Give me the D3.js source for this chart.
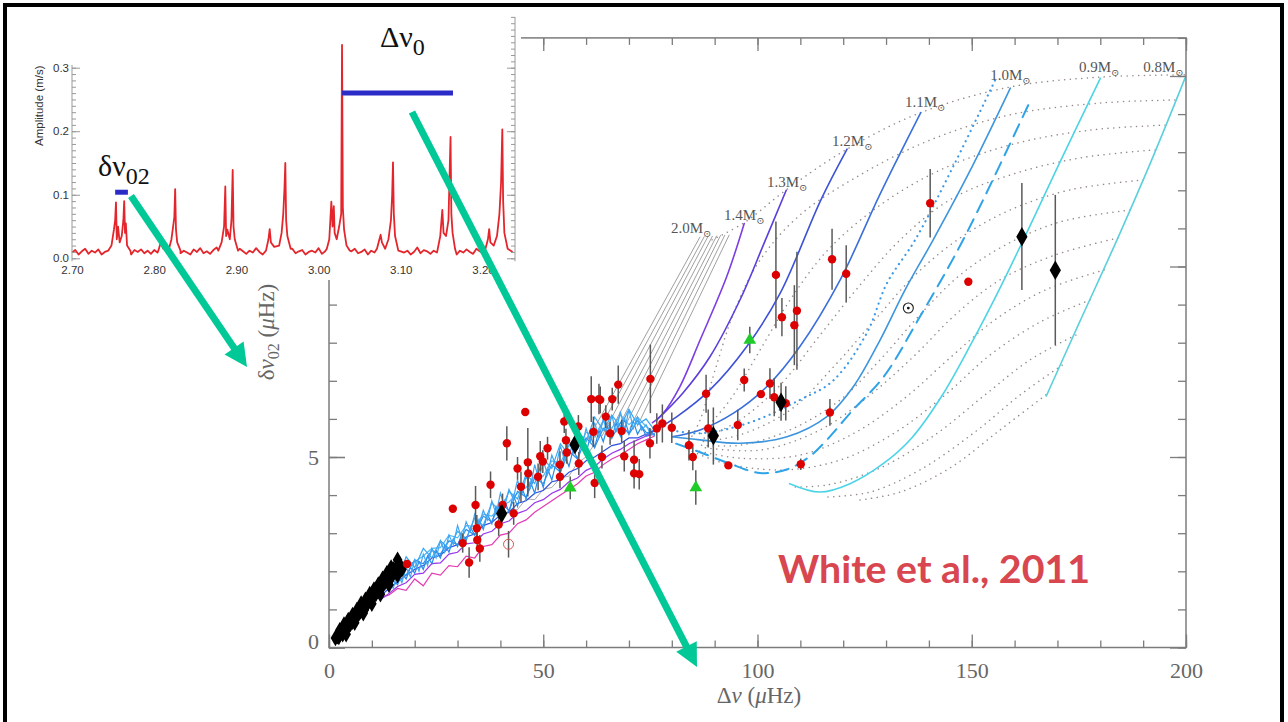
<!DOCTYPE html>
<html>
<head>
<meta charset="utf-8">
<script src="https://cdn.jsdelivr.net/npm/d3@7/dist/d3.min.js"></script>
<style>
html,body{margin:0;padding:0;background:#fff;}
svg{display:block;}
</style>
</head>
<body>
<svg id="chart" width="1288" height="722"></svg>
<script>
// ================= data =================
// main diagram: large separation Δν (μHz) vs small separation δν02 (μHz)
const xTickLabels = [0, 50, 100, 150, 200];
const yMajorTicks = [0, 5, 10, 15];
const yTickLabels = [0, 5];

// evolutionary tracks [Δν, δν02]
const track14 = [[75.5,5.9],[78,6.15],[81.9,6.85],[86.6,8.07],[92.8,9.73],[96.9,11.13]];
const track13 = [[76.5,5.97],[82.6,6.68],[88.9,7.63],[95.9,9.12],[101.5,10.6],[106.7,12.0]];
const track12 = [[74.9,5.63],[81.2,6.06],[88.9,6.76],[97.5,7.9],[105.3,9.3],[114.8,11.75],[120.9,13.08]];
const track11 = [[80,5.53],[86.6,5.71],[94.4,6.15],[102.2,6.85],[109.9,7.9],[119.3,9.65],[128.6,11.9],[138.1,14.04]];
const track10dot = [[80,5.7],[86,5.62],[92,5.71],[99.8,5.97],[109.9,6.5],[117.6,7.0],[125.5,8.25],[130.2,9.56],[136.8,10.7],[146,12.7],[155.5,14.9]];
const track10 = [[80,5.53],[86.6,5.45],[96,5.36],[106.9,5.53],[116.2,6.06],[122.4,6.85],[128.6,8.07],[134.5,9.4],[141,10.7],[150,12.6],[159,14.68]];
const track10dash = [[81,5.35],[86,5.15],[93,4.85],[100.6,4.58],[107,4.68],[112,5.0],[116.2,5.45],[122,6.2],[129.4,7.1],[138,8.7],[148,10.7],[163.2,14.24]];
const track09 = [[107.5,4.3],[114.6,4.08],[121.6,4.3],[129.4,4.83],[136,5.5],[143,6.6],[150,8.0],[156,9.3],[162.9,10.9],[170,12.6],[180,14.94]];
const track08 = [[167.4,6.6],[175,8.5],[183.9,10.7],[192,12.8],[199.8,14.95]];

// 1.5–2.0 Msun tracks (grey bundle)
const greyTracks = [
  [[60.4,5.45],[86.6,10.78]],
  [[62.0,5.50],[87.6,10.79]],
  [[63.7,5.55],[88.5,10.80]],
  [[65.3,5.60],[89.5,10.80]],
  [[66.9,5.65],[90.5,10.81]],
  [[68.6,5.70],[91.4,10.82]],
  [[70.2,5.75],[92.4,10.83]],
  [[71.9,5.80],[93.4,10.83]]
];

// lines of equal age between the tracks
const isochrones = [
  [[89.4,10.70],[96.9,11.15],[106.7,12.01],[120.9,13.08],[137.9,14.03],[158.9,14.71],[179.9,14.97],[199.8,15.03]],
  [[197.4,14.37],[179.9,14.29],[158.9,13.98],[140.3,13.32],[123.9,12.4],[109.9,11.35],[100.6,10.17],[94.7,8.86],[90.1,7.28],[86.6,5.97],[84.2,5.45]],
  [[195.1,13.71],[177.6,13.58],[158.9,13.19],[142.6,12.53],[128.6,11.61],[116.4,10.43],[107.6,9.12],[100.6,7.81],[93.6,6.5],[86.6,5.58]],
  [[192.8,13.06],[175.3,12.85],[158.9,12.4],[144.9,11.75],[133.3,10.7],[123.9,9.51],[114.6,8.2],[105.3,6.89],[95.9,5.97],[86.6,5.45]],
  [[190.0,12.27],[172.9,12.01],[158.9,11.48],[147.3,10.75],[136.8,9.78],[127.4,8.6],[118.1,7.41],[107.6,6.23],[95.9,5.58],[86.6,5.4]],
  [[186.9,11.48],[170.6,11.17],[157.8,10.56],[147.3,9.78],[137.9,8.73],[128.6,7.55],[119.3,6.5],[107.6,5.71],[95.9,5.31],[86.6,5.31]],
  [[184.1,10.75],[169.4,10.3],[156.6,9.65],[146.1,8.73],[136.8,7.68],[126.3,6.63],[114.6,5.71],[100.6,5.18],[86.6,5.26]],
  [[180.9,9.91],[167.1,9.38],[155.4,8.6],[144.9,7.6],[134.4,6.55],[122.8,5.64],[109.9,5.05],[95.9,4.97],[85.4,5.18]],
  [[177.6,9.12],[165.9,8.54],[154.3,7.68],[143.8,6.63],[132.1,5.64],[119.3,4.92],[105.3,4.66],[91.2,4.87],[84.2,5.18]],
  [[174.3,8.2],[163.6,7.55],[153.1,6.63],[141.4,5.58],[128.6,4.71],[116.4,4.27],[107.6,4.21]],
  [[171.1,7.41],[161.3,6.63],[150.8,5.66],[137.9,4.66],[126.3,4.08],[116.4,3.95]],
  [[167.3,6.63],[156.6,5.71],[144.9,4.71],[133.3,4.08],[123.9,3.87]]
];

// red-giant branch of the model grid (noisy, mixed modes)
const rgbX = [12,14,16,18,20,22,24,26,28,30,32,34,36,38,40,42,44,46,48,50,52,54,56,58,60,62,64,66,68,70,72,74,76];
const rgbLightBlue1 = [1.45,1.9,1.75,2.38,2.1,2.6,2.35,2.8,2.6,3.05,2.85,3.4,3.2,3.8,3.55,4.1,3.9,4.55,4.3,4.95,4.7,5.35,5.05,5.7,5.4,6.05,5.7,6.1,5.8,6.25,5.85,6.0,5.7];
const rgbLightBlue2 = [1.5,1.6,1.95,1.9,2.3,2.2,2.55,2.45,2.8,2.7,3.1,2.95,3.45,3.3,3.8,3.6,4.1,3.95,4.45,4.3,4.8,4.6,5.15,4.95,5.5,5.25,5.75,5.5,5.9,5.6,5.95,5.65,5.6];
const rgbLightBlue3 = [1.4,1.72,1.85,2.15,2.25,2.4,2.6,2.62,2.95,2.88,3.2,3.18,3.5,3.45,3.7,3.82,4.05,4.2,4.5,4.5,4.9,4.85,5.3,5.2,5.65,5.55,5.95,5.75,6.1,5.85,6.05,5.8,5.65];
const rgbBlue = [1.35,1.55,1.72,1.9,2.05,2.15,2.35,2.42,2.62,2.7,2.9,2.98,3.2,3.28,3.48,3.55,3.78,3.85,4.05,4.12,4.35,4.4,4.6,4.7,4.9,5.0,5.15,5.3,5.35,5.5,5.5,5.6,5.6];
const rgbPurple = [1.25,1.42,1.6,1.7,1.92,1.95,2.2,2.22,2.45,2.5,2.72,2.75,2.98,3.05,3.25,3.32,3.52,3.6,3.8,3.88,4.05,4.15,4.35,4.45,4.65,4.75,4.95,5.1,5.2,5.35,5.45,5.55,5.6];
const rgbMagenta = [1.3,1.38,1.55,1.5,1.8,1.62,1.95,1.9,2.15,2.12,2.4,2.35,2.65,2.7,2.95,3.0,3.25,3.35,3.55,3.7,3.85,4.0,4.15,4.3,4.5,4.6,4.8,4.95,5.05,5.2,5.35,5.45,5.55];
// finer-sampled light-blue tracks
const rgbXFine = [14,15,16,17,18,19,20,21,22,23,24,25,26,27,28,29,30,31,32,33,34,35,36,37,38,39,40,41,42,43,44,45,46,47,48,49,50,51,52,53,54,55,56,57,58,59,60,61,62,63,64,65,66,67,68,69,70,71,72,73,74,75,76];
const rgbLightBlue4 = [1.82,1.55,1.95,1.7,2.1,1.85,2.3,2.0,2.45,2.15,2.6,2.35,2.8,2.5,2.95,2.7,3.2,2.85,3.3,3.05,3.5,3.2,3.6,3.35,3.85,3.5,4.05,3.7,4.15,3.9,4.4,4.0,4.5,4.2,4.8,4.4,4.9,4.55,5.05,4.75,5.3,4.9,5.45,5.1,5.6,5.25,5.75,5.4,5.9,5.5,6.0,5.6,6.1,5.65,6.2,5.7,6.25,5.75,6.05,5.7,5.85,5.6,5.6];
const rgbLightBlue5 = [1.6,1.75,1.65,1.95,1.8,2.1,1.95,2.25,2.05,2.4,2.2,2.55,2.35,2.7,2.5,2.85,2.65,3.0,2.8,3.15,2.95,3.35,3.1,3.5,3.25,3.7,3.4,3.85,3.55,4.0,3.7,4.2,3.9,4.35,4.05,4.55,4.2,4.7,4.4,4.85,4.6,5.05,4.75,5.2,4.95,5.4,5.1,5.55,5.25,5.7,5.4,5.8,5.5,5.9,5.55,6.0,5.6,5.95,5.6,5.8,5.55,5.7,5.55];
const rgbGrey = [[40,3.4],[42,3.6],[44,3.62],[46,3.9],[48,3.88],[50,4.15],[52,4.2],[54,4.45],[56,4.5],[58,4.85],[60,5.0],[62,5.35]];

// observed stars [Δν, δν02, ±σ]
const keplerStars = [
  [18.2,2.19,0],[28.9,3.64,0],[31.2,2.74,0.25],[32.7,2.23,0.4],[34.2,3.74,0.5],[34.5,3.13,0.35],[34.6,2.82,0.3],[35.2,2.6,0.35],
  [37.7,4.27,0.35],[39.6,3.23,0.3],[40.5,3.74,0.3],[41.5,5.36,0.45],[43.1,3.52,0.3],[44.0,4.7,0.3],[44.8,4.22,0.4],[45.8,6.18,0],
  [46.4,4.86,0.9],[46.5,4.57,0.35],[48.8,4.48,0.35],[49.3,5.02,0.4],[49.9,4.88,0.3],[51.0,5.23,0.3],[53.9,4.8,0.35],[53.9,4.48,0.3],
  [55.5,5.12,0.3],[55.3,5.44,0.3],[54.9,5.93,0.3],[58.3,4.83,0.3],[58.2,5.8,0.3],[61.2,6.52,0.6],[63.0,6.52,0.4],[61.7,5.66,0.4],
  [62.0,4.32,0.4],[63.3,6.5,0.35],[63.7,5.0,0.3],[64.6,6.06,0.3],[66.1,6.52,0.3],[67.5,6.9,0.5],[65.6,5.62,0.3],[68.3,5.68,0.3],
  [68.9,5.02,0.4],[71.2,4.93,0.5],[71.2,4.57,0.4],[72.4,4.55,0.4],[75.0,7.05,0.9],[76.5,5.75,0.4],[77.8,5.88,0.5],[80.0,5.77,0.4],
  [74.9,5.36,0.4],[84.0,5.31,0.4],[84.9,5.0,0.35],[88.0,6.66,0.5],[88.5,5.75,0.5],[93.2,4.78,0],[95.4,5.84,0.4],[96.9,7.02,0.3],
  [100.8,6.65,0],[102.9,6.93,0.4],[103.9,6.57,0.5],[104.3,9.78,1.4],[105.7,8.67,0.5],[106.6,6.41,0.45],[108.6,8.46,1.05],
  [109.2,8.84,1.55],[110.1,4.81,0.15],[116.9,6.17,0.35],[117.4,10.19,0.8],[120.7,9.81,0.75],[140.3,11.66,0.9],[149.2,9.6,0]
];
// [Δν, δν02, lower, upper]
const diamondStars = [[40.3,3.52,3.52,3.52],[57.4,5.33,5.33,5.33],[89.7,5.56,4.8,6.3],[105.5,6.44,5.95,6.95],[161.7,10.78,9.38,12.19],[169.5,9.9,7.94,11.88]];
const giantStars = [
  [1.5,0.25],[2.0,0.3],[2.3,0.28],[2.6,0.36],[3.0,0.4],[3.2,0.35],[3.5,0.45],[3.8,0.5],[4.0,0.46],[4.3,0.55],[4.6,0.6],
  [5.0,0.62],[5.2,0.7],[5.5,0.68],[5.8,0.75],[6.0,0.8],[6.3,0.78],[6.6,0.86],[7.0,0.9],[7.3,0.95],[7.6,1.0],[8.0,1.05],
  [8.2,0.98],[8.6,1.1],[9.0,1.15],[9.3,1.22],[9.8,1.25],[10.2,1.3],[10.6,1.38],[11.0,1.42],[11.5,1.5],[12.0,1.58],[12.5,1.62],
  [13.0,1.7],[13.5,1.78],[14.2,1.9],[14.6,1.85],[15.0,2.05],[15.8,2.1],[16.4,2.2],[17.0,2.05],
  [2.5,0.45],[3.5,0.6],[4.5,0.72],[5.5,0.85],[6.5,0.98],[7.5,1.15],[8.5,1.25],[9.5,1.4],[10.5,1.52],[11.5,1.65],[12.5,1.8],
  [13.5,1.95],[14.5,2.1],[16.0,2.3],[4.0,0.35],[6.0,0.65],[8.0,0.9],[10.0,1.15],[12.0,1.4],[14.0,1.65],[16.0,1.9]
];
const triangleStars = [[56.3,4.19,0.3],[85.6,4.2,0.45],[98.2,8.07,0.35]];
const openStars = [[41.9,2.71,0.35]];
const sunPoint = [135.2,8.91];

const massNames = ["2.0","1.4","1.3","1.2","1.1","1.0","0.9","0.8"];
const massLabelAt = [[79.8,10.88],[92.2,11.22],[102.2,12.09],[117.4,13.16],[134.4,14.19],[154.3,14.9],[175.0,15.11],[190.0,15.11]];

// inset: oscillation spectrum (frequency mHz, amplitude m/s)
const insetXTicks = [2.70, 2.80, 2.90, 3.00, 3.10, 3.20];
const insetYTicks = [0.0, 0.1, 0.2, 0.3];
const noiseStart = 2.700, noiseStep = 0.004;
const noiseAmp = [
  .009,.013,.006,.011,.015,.007,.012,.009,.014,.006,.010,.016,.008,.012,.007,
  .011,.017,.009,.006,.013,.010,.014,.008,.012,.007,.013,.009,.012,.019,.010,
  .007,.012,.015,.008,.012,.009,.006,.014,.010,.016,.008,.011,.007,.013,.017,
  .009,.011,.006,.014,.010,.008,.015,.011,.007,.012,.009,.016,.010,.006,.013,
  .008,.011,.018,.009,.012,.007,.010,.015,.008,.011,.013,.006,.010,.012,.009,
  .016,.007,.011,.008,.013,.010,.017,.009,.012,.007,.011,.015,.008,.010,.014,
  .006,.012,.009,.016,.011,.007,.013,.010,.008,.015,.011,.009,.012,.006,.010,
  .017,.008,.013,.011,.007,.012,.009,.015,.010,.008,.016,.011,.006,.012,.009,
  .014,.010,.007,.015,.011,.008,.012,.017,.009,.011,.007,.013,.010,.012,.009
];
const modePeaks = [
  [[2.744,0.012],[2.748,0.02],[2.751,0.045],[2.7525,0.06],[2.7535,0.088],[2.7545,0.03],[2.756,0.05],[2.758,0.025],[2.7605,0.035],[2.7625,0.06],[2.7635,0.09],[2.7645,0.04],[2.7655,0.055],[2.767,0.02],[2.771,0.012]],
  [[2.805,0.012],[2.808,0.025],[2.811,0.015],[2.818,0.015],[2.821,0.03],[2.823,0.05],[2.8245,0.065],[2.8255,0.109],[2.8265,0.045],[2.828,0.025],[2.832,0.012]],
  [[2.878,0.012],[2.882,0.025],[2.885,0.05],[2.8865,0.113],[2.8875,0.035],[2.889,0.045],[2.892,0.03],[2.894,0.06],[2.8955,0.139],[2.8965,0.05],[2.898,0.03],[2.902,0.012]],
  [[2.936,0.012],[2.939,0.03],[2.9405,0.046],[2.942,0.025],[2.946,0.018],[2.952,0.02],[2.955,0.04],[2.957,0.07],[2.9585,0.11],[2.9595,0.15],[2.9605,0.06],[2.962,0.035],[2.966,0.015]],
  [[3.010,0.015],[3.013,0.03],[3.0155,0.089],[3.017,0.05],[3.0185,0.082],[3.0195,0.04],[3.022,0.03],[3.025,0.05],[3.0275,0.07],[3.0285,0.336],[3.0295,0.08],[3.031,0.045],[3.034,0.02],[3.038,0.012]],
  [[3.071,0.015],[3.074,0.03],[3.0755,0.037],[3.077,0.025],[3.081,0.015],[3.085,0.03],[3.088,0.06],[3.0895,0.1],[3.0905,0.151],[3.0915,0.07],[3.093,0.035],[3.097,0.012]],
  [[3.145,0.015],[3.148,0.035],[3.1505,0.076],[3.152,0.04],[3.155,0.035],[3.158,0.06],[3.1605,0.191],[3.1615,0.07],[3.163,0.04],[3.166,0.015]],
  [[3.203,0.015],[3.206,0.03],[3.2075,0.046],[3.209,0.025],[3.213,0.02],[3.217,0.035],[3.220,0.07],[3.222,0.12],[3.2235,0.203],[3.2245,0.09],[3.226,0.04],[3.230,0.015],[3.236,0.01]]
];
// separations marked on the spectrum [f_start, f_end, amplitude]
const smallSepBar = [2.7525, 2.768, 0.104];
const largeSepBar = [3.0285, 3.1635, 0.26];

// ================= drawing =================
const svg = d3.select("#chart");
const serif = "'Liberation Serif','DejaVu Serif',serif";
const sans = "'Liberation Sans','DejaVu Sans',sans-serif";
const axisColor = "#7c7c7c";

const x = d3.scaleLinear().domain([0, 200]).range([329, 1186]);
const y = d3.scaleLinear().domain([0, 16]).range([647.5, 37.9]);

const main = svg.append("g");
const smooth = d3.line().x(d => x(d[0])).y(d => y(d[1])).curve(d3.curveCatmullRom.alpha(0.5));
const straight = d3.line().x(d => x(d[0])).y(d => y(d[1]));

// equal-age lines
main.append("g").selectAll("path").data(isochrones).join("path")
  .attr("d", smooth).attr("fill", "none").attr("stroke", "#958a8a")
  .attr("stroke-width", 1.5).attr("stroke-linecap", "round").attr("stroke-dasharray", "0.1,5.6");

// grey bundle of higher-mass tracks
main.append("g").selectAll("path").data(greyTracks).join("path")
  .attr("d", straight).attr("fill", "none").attr("stroke", "#a0a0a0").attr("stroke-width", 1);
main.append("path").datum(rgbGrey).attr("d", straight).attr("fill", "none").attr("stroke", "#a8a8a8").attr("stroke-width", 1);

// red-giant branch band
const rgbSeries = [
  {xs: rgbX, ys: rgbMagenta, c: "#e23cb4"}, {xs: rgbX, ys: rgbPurple, c: "#9a35ec"}, {xs: rgbX, ys: rgbBlue, c: "#3050de"},
  {xs: rgbXFine, ys: rgbLightBlue5, c: "#2a8ce6"}, {xs: rgbX, ys: rgbLightBlue3, c: "#55b8f2"},
  {xs: rgbX, ys: rgbLightBlue2, c: "#2f90ea"}, {xs: rgbXFine, ys: rgbLightBlue4, c: "#42a6f2"},
  {xs: rgbX, ys: rgbLightBlue1, c: "#3aa8f5"}
];
main.append("g").selectAll("path").data(rgbSeries).join("path")
  .attr("d", s => straight(s.xs.map((v, i) => [v, s.ys[i]])))
  .attr("fill", "none").attr("stroke", s => s.c).attr("stroke-width", 1.2);

// main-sequence / subgiant tracks
const tracks = [
  {d: track14, c: "#7b3fe4"}, {d: track13, c: "#5b3fdc"}, {d: track12, c: "#3e52d8"},
  {d: track11, c: "#3a6fdc"}, {d: track10, c: "#3d95dd"},
  {d: track10dot, c: "#3d9ae8", dash: "0.1,5.5", w: 2.2},
  {d: track10dash, c: "#2ea3e8", dash: "13,8", w: 2},
  {d: track09, c: "#4cd4e6"}, {d: track08, c: "#5ad0dc"}
];
main.append("g").selectAll("path").data(tracks).join("path")
  .attr("d", t => smooth(t.d)).attr("fill", "none").attr("stroke", t => t.c)
  .attr("stroke-width", t => t.w || 1.6).attr("stroke-linecap", "round")
  .attr("stroke-dasharray", t => t.dash || null);

// mass labels
const ml = main.append("g").attr("font-family", serif).attr("font-size", 15).attr("fill", "#555");
massNames.forEach((m, i) => {
  const t = ml.append("text").attr("x", x(massLabelAt[i][0])).attr("y", y(massLabelAt[i][1]));
  t.append("tspan").text(m + "M");
  t.append("tspan").attr("font-size", 10).attr("dy", 4).text("\u2299");
});

// error bars
const eb = main.append("g").attr("stroke", "#5a5a5a").attr("stroke-width", 1.5);
keplerStars.filter(d => d[2] > 0).forEach(d => eb.append("line")
  .attr("x1", x(d[0])).attr("x2", x(d[0])).attr("y1", y(d[1] - d[2])).attr("y2", y(d[1] + d[2])));
diamondStars.filter(d => d[3] > d[2]).forEach(d => eb.append("line")
  .attr("x1", x(d[0])).attr("x2", x(d[0])).attr("y1", y(d[2])).attr("y2", y(d[3])));
triangleStars.concat(openStars).forEach(d => eb.append("line")
  .attr("x1", x(d[0])).attr("x2", x(d[0])).attr("y1", y(d[1] - d[2])).attr("y2", y(d[1] + d[2])));

// red giants near the origin
main.append("g").selectAll("path").data(giantStars).join("path")
  .attr("d", d3.symbol(d3.symbolDiamond, 80))
  .attr("transform", d => `translate(${x(d[0])},${y(d[1])})`).attr("fill", "#000");

// stars
main.append("g").selectAll("circle").data(keplerStars).join("circle")
  .attr("cx", d => x(d[0])).attr("cy", d => y(d[1])).attr("r", 4.2).attr("fill", "#dd0000");
main.append("g").selectAll("circle").data(openStars).join("circle")
  .attr("cx", d => x(d[0])).attr("cy", d => y(d[1])).attr("r", 5).attr("fill", "none").attr("stroke", "#e05050").attr("stroke-width", 1);
main.append("g").selectAll("path").data(diamondStars).join("path")
  .attr("d", d3.symbol(d3.symbolDiamond, 110))
  .attr("transform", d => `translate(${x(d[0])},${y(d[1])})`).attr("fill", "#000");
main.append("g").selectAll("path").data(triangleStars).join("path")
  .attr("d", d3.symbol(d3.symbolTriangle, 70))
  .attr("transform", d => `translate(${x(d[0])},${y(d[1])})`).attr("fill", "#1fcc2a");
main.append("circle").attr("cx", x(sunPoint[0])).attr("cy", y(sunPoint[1])).attr("r", 5)
  .attr("fill", "#fff").attr("stroke", "#222").attr("stroke-width", 1.1);
main.append("circle").attr("cx", x(sunPoint[0])).attr("cy", y(sunPoint[1])).attr("r", 1.4).attr("fill", "#111");

// frame and axes
main.append("rect").attr("x", x(0)).attr("y", y(16)).attr("width", x(200) - x(0)).attr("height", y(0) - y(16))
  .attr("fill", "none").attr("stroke", axisColor).attr("stroke-width", 1.5);
function styleAxis(g) {
  g.select(".domain").remove();
  g.selectAll(".tick line").attr("stroke", axisColor).attr("stroke-width", 1.3);
  g.selectAll(".tick text").attr("font-family", serif).attr("font-size", 22).attr("fill", "#666");
}
const xMinor = d3.range(0, 201, 10), yMinor = d3.range(0, 17, 1);
main.append("g").attr("transform", `translate(0,${y(0)})`)
  .call(d3.axisBottom(x).tickValues(xMinor).tickSize(-7).tickFormat("")).call(styleAxis);
main.append("g").attr("transform", `translate(0,${y(0)})`)
  .call(d3.axisBottom(x).tickValues(xTickLabels).tickSizeInner(-13).tickSizeOuter(0).tickPadding(15).tickFormat(d3.format("d"))).call(styleAxis);
main.append("g").attr("transform", `translate(0,${y(16)})`)
  .call(d3.axisTop(x).tickValues(xMinor).tickSize(-7).tickFormat("")).call(styleAxis);
main.append("g").attr("transform", `translate(0,${y(16)})`)
  .call(d3.axisTop(x).tickValues(xTickLabels).tickSize(-13).tickFormat("")).call(styleAxis);
main.append("g").attr("transform", `translate(${x(0)},0)`)
  .call(d3.axisLeft(y).tickValues(yMinor).tickSize(-8).tickFormat("")).call(styleAxis);
main.append("g").attr("transform", `translate(${x(0)},0)`)
  .call(d3.axisLeft(y).tickValues(yMajorTicks).tickSize(-16).tickFormat("")).call(styleAxis);
const yl = main.append("g").attr("transform", `translate(${x(0)},0)`)
  .call(d3.axisLeft(y).tickValues(yTickLabels).tickSizeInner(-16).tickSizeOuter(0).tickPadding(10).tickFormat(d3.format("d"))).call(styleAxis);
yl.selectAll(".tick text").filter(d => d === 0).attr("dy", "0.05em");
main.append("g").attr("transform", `translate(${x(200)},0)`)
  .call(d3.axisRight(y).tickValues(yMinor).tickSize(-8).tickFormat("")).call(styleAxis);
main.append("g").attr("transform", `translate(${x(200)},0)`)
  .call(d3.axisRight(y).tickValues(yMajorTicks).tickSize(-16).tickFormat("")).call(styleAxis);

// axis titles
const xt = main.append("text").attr("x", 759).attr("y", 703).attr("text-anchor", "middle")
  .attr("font-family", serif).attr("font-size", 23).attr("fill", "#666");
xt.append("tspan").text("\u0394");
xt.append("tspan").attr("font-style", "italic").text("\u03bd");
xt.append("tspan").text(" (");
xt.append("tspan").attr("font-style", "italic").text("\u03bc");
xt.append("tspan").text("Hz)");
const ytl = main.append("text").attr("transform", "translate(274,332) rotate(-90)").attr("text-anchor", "middle")
  .attr("font-family", serif).attr("font-size", 23).attr("fill", "#666");
ytl.append("tspan").text("\u03b4");
ytl.append("tspan").attr("font-style", "italic").text("\u03bd");
ytl.append("tspan").attr("font-size", 16).attr("dy", 5).text("02");
ytl.append("tspan").attr("dy", -5).text(" (");
ytl.append("tspan").attr("font-style", "italic").text("\u03bc");
ytl.append("tspan").text("Hz)");

// citation
main.append("text").attr("x", 778).attr("y", 583).attr("font-family", "Lato, 'Open Sans', sans-serif")
  .attr("font-weight", 700).attr("font-size", 38).attr("fill", "#d8464f")
  .attr("textLength", 312).attr("lengthAdjust", "spacingAndGlyphs").text("White et al., 2011");

// ================= inset spectrum =================
const ins = svg.append("g");
ins.append("rect").attr("x", 7).attr("y", 7).attr("width", 514).attr("height", 273).attr("fill", "#fff");
const fx = d3.scaleLinear().domain([2.70, 3.20]).range([72, 483]);
const fy = d3.scaleLinear().domain([0, 0.3]).range([258.3, 67.7]);

const peakRanges = modePeaks.map(g => [g[0][0], g[g.length - 1][0]]);
const spectrum = [];
noiseAmp.forEach((a, i) => {
  const f = noiseStart + i * noiseStep;
  if (!peakRanges.some(r => f >= r[0] && f <= r[1])) spectrum.push([f, a]);
});
modePeaks.forEach(g => g.forEach(p => spectrum.push(p)));
spectrum.sort((a, b) => a[0] - b[0]);

ins.append("path").datum(spectrum)
  .attr("d", d3.line().x(d => fx(d[0])).y(d => fy(d[1])))
  .attr("fill", "none").attr("stroke", "#e4262c").attr("stroke-width", 1.8).attr("stroke-linejoin", "round");

function styleInsetAxis(g) {
  g.select(".domain").remove();
  g.selectAll(".tick line").attr("stroke", "#999").attr("stroke-width", 1);
  g.selectAll(".tick text").attr("font-family", sans).attr("font-size", 11.5).attr("fill", "#333");
}
const ampMinor = d3.range(0, 0.305, 0.01), ampMinorR = d3.range(0, 0.385, 0.01);
ins.append("line").attr("x1", 72).attr("x2", 72).attr("y1", fy(0) + 3).attr("y2", 65).attr("stroke", "#999");
ins.append("g").attr("transform", "translate(72,0)")
  .call(d3.axisLeft(fy).tickValues(ampMinor).tickSize(-4).tickFormat("")).call(styleInsetAxis);
ins.append("g").attr("transform", "translate(72,0)")
  .call(d3.axisLeft(fy).tickValues(insetYTicks).tickSizeInner(-8).tickSizeOuter(0).tickPadding(3).tickFormat(d3.format(".1f"))).call(styleInsetAxis);
ins.append("line").attr("x1", 515).attr("x2", 515).attr("y1", fy(0) + 3).attr("y2", 17).attr("stroke", "#999");
ins.append("g").attr("transform", "translate(515,0)")
  .call(d3.axisRight(fy).tickValues(ampMinorR).tickSize(-4).tickFormat("")).call(styleInsetAxis);
ins.append("g").attr("transform", "translate(515,0)")
  .call(d3.axisRight(fy).tickValues(insetYTicks).tickSize(-8).tickFormat("")).call(styleInsetAxis);
ins.append("g").attr("transform", `translate(0,${fy(0) + 4})`)
  .call(d3.axisBottom(fx).tickValues(insetXTicks).tickSize(0).tickPadding(4).tickFormat(d3.format(".2f"))).call(styleInsetAxis);

// amplitude label, cut by the top of the frame
ins.append("clipPath").attr("id", "ampClip").append("rect").attr("x", 0).attr("y", 63).attr("width", 70).attr("height", 200);
ins.append("g").attr("clip-path", "url(#ampClip)").append("text")
  .attr("transform", "translate(43,146) rotate(-90)").attr("font-family", sans).attr("font-size", 11.5)
  .attr("fill", "#333").text("Amplitude (m/s)");

// separation bars
[smallSepBar, largeSepBar].forEach(b => ins.append("line")
  .attr("x1", fx(b[0])).attr("x2", fx(b[1])).attr("y1", fy(b[2])).attr("y2", fy(b[2]))
  .attr("stroke", "#2b2bc8").attr("stroke-width", 5));

const t1 = ins.append("text").attr("x", 98).attr("y", 176).attr("font-family", serif).attr("font-size", 30).attr("fill", "#111");
t1.append("tspan").text("\u03b4\u03bd");
t1.append("tspan").attr("font-size", 24).attr("dy", 8).text("02");
const t2 = ins.append("text").attr("x", 380).attr("y", 47).attr("font-family", serif).attr("font-size", 30).attr("fill", "#111");
t2.append("tspan").text("\u0394\u03bd");
t2.append("tspan").attr("font-size", 24).attr("dy", 8).text("0");

// ================= arrows =================
const arrowColor = "#00c896";
function arrow(x0, y0, x1, y1) {
  const dx = x1 - x0, dy = y1 - y0, L = Math.hypot(dx, dy), ux = dx / L, uy = dy / L;
  const hl = 23, hw = 11.5;
  svg.append("line").attr("x1", x0).attr("y1", y0).attr("x2", x1 - ux * (hl - 2)).attr("y2", y1 - uy * (hl - 2))
    .attr("stroke", arrowColor).attr("stroke-width", 7);
  const bx = x1 - ux * hl, by = y1 - uy * hl;
  svg.append("path").attr("d", `M${x1},${y1}L${bx - uy * hw},${by + ux * hw}L${bx + uy * hw},${by - ux * hw}Z`).attr("fill", arrowColor);
}
arrow(131, 196, 247, 367);
arrow(412, 112, 697, 667);

// outer border
svg.append("rect").attr("x", 5).attr("y", 5).attr("width", 1277).attr("height", 800)
  .attr("fill", "none").attr("stroke", "#000").attr("stroke-width", 4);
</script>
</body>
</html>
